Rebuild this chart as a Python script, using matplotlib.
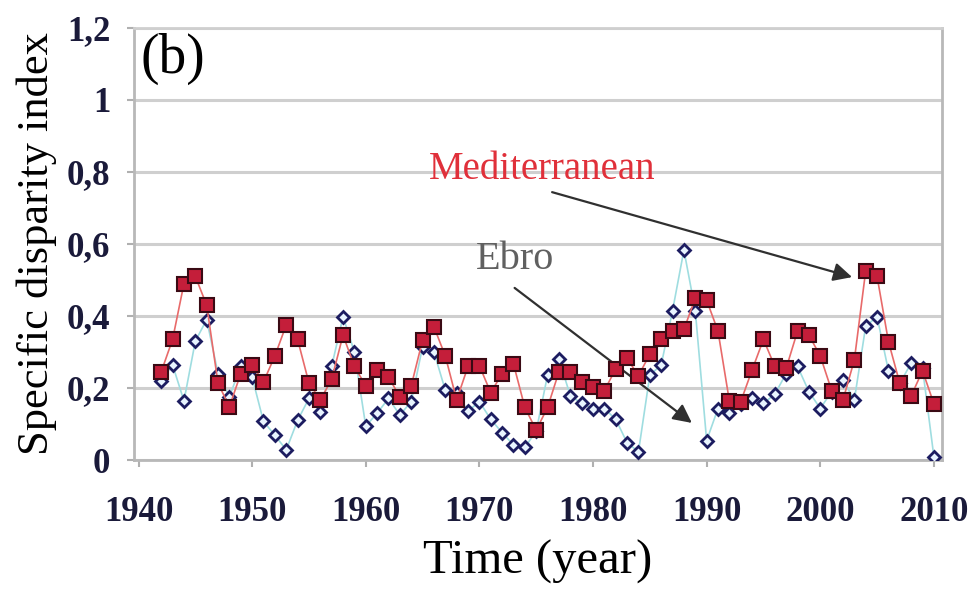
import numpy as np
import matplotlib.pyplot as plt

# data
years = list(range(1942, 2011))

mediterranean = [0.245, 0.335, 0.49, 0.51, 0.43, 0.213, 0.148, 0.24, 0.264, 0.217,
                 0.289, 0.375, 0.335, 0.214, 0.167, 0.224, 0.347, 0.26, 0.206, 0.25,
                 0.23, 0.176, 0.206, 0.333, 0.37, 0.289, 0.167, 0.26, 0.262, 0.187,
                 0.24, 0.267, 0.146, 0.083, 0.146, 0.245, 0.245, 0.216, 0.204, 0.193,
                 0.253, 0.282, 0.234, 0.294, 0.335, 0.358, 0.363, 0.449, 0.444, 0.358,
                 0.164, 0.162, 0.25, 0.335, 0.26, 0.255, 0.358, 0.347, 0.289, 0.193,
                 0.167, 0.278, 0.526, 0.51, 0.329, 0.213, 0.178, 0.248, 0.156]

ebro = [0.22, 0.264, 0.164, 0.33, 0.39, 0.24, 0.176, 0.26, 0.23, 0.107,
        0.069, 0.028, 0.11, 0.171, 0.134, 0.26, 0.398, 0.30, 0.094, 0.13,
        0.171, 0.125, 0.162, 0.315, 0.30, 0.194, 0.185, 0.136, 0.162, 0.113,
        0.076, 0.042, 0.035, 0.08, 0.236, 0.28, 0.179, 0.157, 0.143, 0.143,
        0.113, 0.048, 0.023, 0.236, 0.264, 0.415, 0.583, 0.415, 0.054, 0.143,
        0.13, 0.155, 0.172, 0.157, 0.183, 0.24, 0.26, 0.19, 0.143, 0.19,
        0.222, 0.167, 0.372, 0.398, 0.248, 0.213, 0.269, 0.255, 0.009]

x_ticks = [1940, 1950, 1960, 1970, 1980, 1990, 2000, 2010]
y_ticks = [0, 0.2, 0.4, 0.6, 0.8, 1.0, 1.2]
y_labels = ["0", "0,2", "0,4", "0,6", "0,8", "1", "1,2"]

plt.rcParams['font.family'] = ['Liberation Serif', 'DejaVu Serif']

fig = plt.figure(figsize=(9.75, 5.89), dpi=100)
ax = fig.add_axes([0.1374, 0.219, 0.8286, 0.7335])

# Ebro series (diamonds), drawn first so the red squares sit on top
ax.plot(years, ebro, color='#9fdde0', linewidth=1.2, marker='D', markersize=6,
        markerfacecolor='#e8f4ff', markeredgecolor='#1c1c60', markeredgewidth=2, zorder=3)
# Mediterranean series (squares)
ax.plot(years, mediterranean, color='#e86a6a', linewidth=1.2, marker='s', markersize=10.5,
        markerfacecolor='#c41e3a', markeredgecolor='#3a0a14', markeredgewidth=1.5, zorder=4)

ax.set_xlim(1939.6, 2010.7)
ax.set_ylim(0, 1.2)
ax.set_xticks(x_ticks)
ax.set_yticks(y_ticks)
ax.set_yticklabels(y_labels)
ax.tick_params(axis='both', labelsize=25, colors='#b0b0b0', labelcolor='#1a1a3a',
               length=5, width=1.5)
ax.tick_params(axis='x', pad=21)
ax.tick_params(axis='y', pad=12)
for lab in ax.get_xticklabels() + ax.get_yticklabels():
    lab.set_fontweight('bold')

ax.grid(axis='y', color='#cfcfcf', linewidth=2.2, zorder=0)
for sp in ax.spines.values():
    sp.set_color('#b8b8b8')
    sp.set_linewidth(2)
ax.spines['top'].set_color('#cfcfcf')

ax.set_xlabel('Time (year)', fontsize=35, labelpad=8)
ax.set_ylabel('Specific disparity index', fontsize=32, labelpad=7)

ax.text(0.008, 0.99, '(b)', transform=ax.transAxes, fontsize=40, va='top', ha='left')

# labels and their arrows
ax.text(1975.5, 0.806, 'Mediterranean', fontsize=28, color='#e0303a', ha='center', va='center')
ax.annotate('', xy=(2002.8, 0.508), xytext=(1976.4, 0.744),
            arrowprops=dict(arrowstyle='-|>', color='#303030', lw=1.6,
                            mutation_scale=28, shrinkA=0, shrinkB=0))
ax.text(1973.1, 0.556, 'Ebro', fontsize=29, color='#606060', ha='center', va='center')
ax.annotate('', xy=(1988.7, 0.103), xytext=(1973.1, 0.478),
            arrowprops=dict(arrowstyle='-|>', color='#303030', lw=1.6,
                            mutation_scale=28, shrinkA=0, shrinkB=0))

fig.savefig('out.png', dpi=100)
